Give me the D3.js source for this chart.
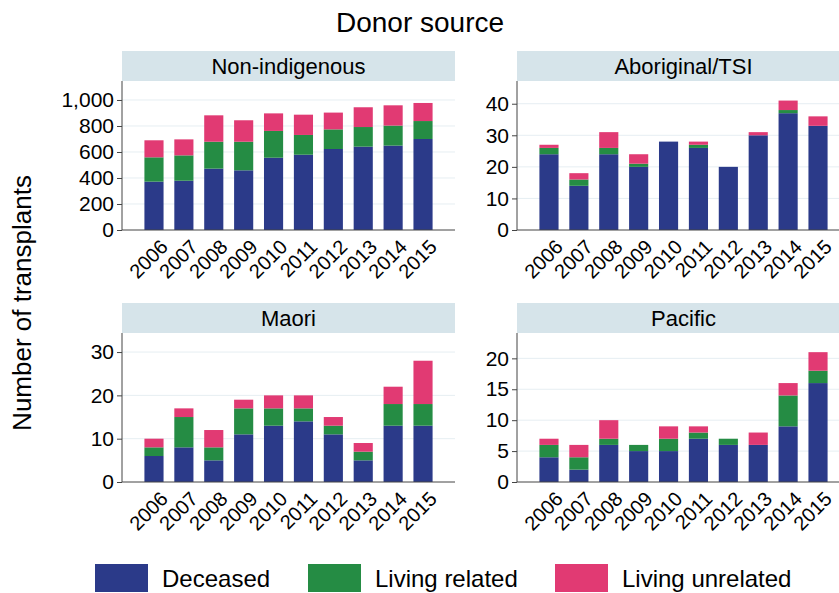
<!DOCTYPE html>
<html lang="en">
<head>
  <meta charset="UTF-8">
  <title>Donor source</title>
  <script src="https://d3js.org/d3.v7.min.js"></script>
  <style>
    body { margin: 0; background: #fff; }
    svg { display: block; font-family: "Liberation Sans", Arial, sans-serif; }
    .grid line { stroke: #e6eef2; stroke-width: 1; }
    .axis path, .axis line { stroke: #444; }
    .axis text { font-size: 21px; fill: #000; }
  </style>
</head>
<body>
  <svg width="839" height="593"></svg>

  <script>
    const years = ["2006", "2007", "2008", "2009", "2010", "2011", "2012", "2013", "2014", "2015"];
    const seriesNames = ["Deceased", "Living related", "Living unrelated"];
    const colors = ["#2b3a89", "#258c44", "#e13a73"];

    // values per panel: deceased, living related, living unrelated
    const nonIndigenousDeceased  = [372, 379, 472, 459, 556, 579, 623, 641, 649, 700];
    const nonIndigenousRelated   = [187, 195, 207, 220, 206, 152, 151, 151, 154, 138];
    const nonIndigenousUnrelated = [131, 123, 203, 165, 135, 156, 129, 152, 156, 139];

    const aboriginalDeceased  = [24, 14, 24, 20, 28, 26, 20, 30, 37, 33];
    const aboriginalRelated   = [2, 2, 2, 1, 0, 1, 0, 0, 1, 0];
    const aboriginalUnrelated = [1, 2, 5, 3, 0, 1, 0, 1, 3, 3];

    const maoriDeceased  = [6, 8, 5, 11, 13, 14, 11, 5, 13, 13];
    const maoriRelated   = [2, 7, 3, 6, 4, 3, 2, 2, 5, 5];
    const maoriUnrelated = [2, 2, 4, 2, 3, 3, 2, 2, 4, 10];

    const pacificDeceased  = [4, 2, 6, 5, 5, 7, 6, 6, 9, 16];
    const pacificRelated   = [2, 2, 1, 1, 2, 1, 1, 0, 5, 2];
    const pacificUnrelated = [1, 2, 3, 0, 2, 1, 0, 2, 2, 3];

    const panels = [
      { title: "Non-indigenous", series: [nonIndigenousDeceased, nonIndigenousRelated, nonIndigenousUnrelated],
        ticks: [0, 200, 400, 600, 800, 1000], yMax: 1146, left: 122, top: 51 },
      { title: "Aboriginal/TSI", series: [aboriginalDeceased, aboriginalRelated, aboriginalUnrelated],
        ticks: [0, 10, 20, 30, 40], yMax: 47.2, left: 517, top: 51 },
      { title: "Maori", series: [maoriDeceased, maoriRelated, maoriUnrelated],
        ticks: [0, 10, 20, 30], yMax: 34.4, left: 122, top: 303 },
      { title: "Pacific", series: [pacificDeceased, pacificRelated, pacificUnrelated],
        ticks: [0, 5, 10, 15, 20], yMax: 24.1, left: 517, top: 303 }
    ];

    const svg = d3.select("svg");
    const panelW = 333, stripH = 30, plotH = 149;

    svg.append("text")
      .attr("x", 420).attr("y", 32)
      .attr("text-anchor", "middle")
      .style("font-size", "28px")
      .text("Donor source");

    svg.append("text")
      .attr("transform", "translate(31,303) rotate(-90)")
      .attr("text-anchor", "middle")
      .style("font-size", "26px")
      .text("Number of transplants");

    panels.forEach(p => {
      const g = svg.append("g").attr("transform", `translate(${p.left},${p.top})`);

      // strip
      g.append("rect")
        .attr("width", panelW).attr("height", stripH)
        .attr("fill", "#d6e4ea");
      g.append("text")
        .attr("x", panelW / 2).attr("y", stripH / 2 + 8)
        .attr("text-anchor", "middle")
        .style("font-size", "22px")
        .text(p.title);

      const plot = g.append("g").attr("transform", `translate(0,${stripH})`);

      const x = d3.scaleBand()
        .domain(years)
        .range([0, panelW])
        .paddingInner(0.36)
        .paddingOuter(0.75);

      const y = d3.scaleLinear()
        .domain([0, p.yMax])
        .range([plotH, 0]);

      // gridlines
      plot.append("g").attr("class", "grid")
        .selectAll("line")
        .data(p.ticks.filter(t => t > 0))
        .join("line")
        .attr("x1", 0).attr("x2", panelW)
        .attr("y1", d => y(d)).attr("y2", d => y(d));

      // stacked bars
      const rows = years.map((yr, i) => ({
        year: yr,
        "Deceased": p.series[0][i],
        "Living related": p.series[1][i],
        "Living unrelated": p.series[2][i]
      }));
      const stacked = d3.stack().keys(seriesNames)(rows);

      plot.selectAll("g.layer")
        .data(stacked)
        .join("g")
        .attr("class", "layer")
        .attr("fill", (d, i) => colors[i])
        .selectAll("rect")
        .data(d => d.filter(v => v[1] - v[0] > 0))
        .join("rect")
        .attr("x", d => x(d.data.year))
        .attr("y", d => y(d[1]))
        .attr("width", x.bandwidth())
        .attr("height", d => y(d[0]) - y(d[1]));

      // y axis
      plot.append("g").attr("class", "axis")
        .call(d3.axisLeft(y).tickValues(p.ticks).tickSize(5).tickPadding(3)
          .tickFormat(d3.format(",")))
        .call(a => a.select(".domain").attr("d", `M0,${plotH}V0`));

      // x axis
      const xa = plot.append("g").attr("class", "axis")
        .attr("transform", `translate(0,${plotH})`)
        .call(d3.axisBottom(x).tickSize(0).tickPadding(0))
        .call(a => a.select(".domain").attr("d", `M0,0H${panelW}`));
      xa.selectAll("text")
        .attr("dy", null).attr("y", 0)
        .attr("transform", "translate(5,8) rotate(-45)")
        .style("text-anchor", "end")
        .style("dominant-baseline", "hanging")
        .style("font-size", "20px");
    });

    // legend
    const legendX = [95, 308, 555];
    const legend = svg.append("g");
    seriesNames.forEach((name, i) => {
      legend.append("rect")
        .attr("x", legendX[i]).attr("y", 564)
        .attr("width", 53).attr("height", 28)
        .attr("fill", colors[i]);
      legend.append("text")
        .attr("x", legendX[i] + 67).attr("y", 587)
        .style("font-size", "24px")
        .text(name);
    });
  </script>
</body>
</html>
